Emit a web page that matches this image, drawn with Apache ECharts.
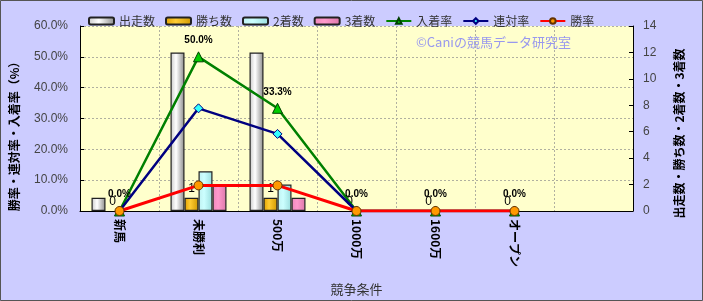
<!DOCTYPE html>
<html><head><meta charset="utf-8">
<script src="https://cdn.jsdelivr.net/npm/echarts@6/dist/echarts.min.js"></script>
<style>html,body{margin:0;padding:0;background:#CCCCFF}#c{width:703px;height:301px}</style>
</head><body><div id="c"></div>
<script>
const categories = ['新馬','未勝利','500万','1000万','1600万','オープン',''];
const runs   = [1, 12, 12, 0, 0, 0, null];
const wins   = [0, 1, 1, 0, 0, 0, null];
const second = [0, 3, 2, 0, 0, 0, null];
const third  = [0, 2, 1, 0, 0, 0, null];
const placeRate = [0, 50.0, 33.3, 0, 0, 0, null];
const quinellaRate = [0, 33.3, 25.0, 0, 0, 0, null];
const winRate = [0, 8.3, 8.3, 0, 0, 0, null];
const leftTicks = {min: 0, max: 60, interval: 10};
const rightTicks = {min: 0, max: 14, interval: 2};

const FONT = 'Liberation Sans, "Noto Sans CJK JP", sans-serif';
const JFONT = '"Noto Sans CJK JP", sans-serif';
function grad(c0, c1, c2){
  return {type:'linear', x:0, y:0, x2:1, y2:0, colorStops:[{offset:0,color:c0},{offset:0.4,color:c1},{offset:1,color:c2}]};
}
// zero-height bars get no outline
function barData(arr){
  return arr.map(v => v === 0 ? {value:0, itemStyle:{borderWidth:0, opacity:0}} : v);
}
const barBorder = {borderColor:'#222', borderWidth:1.2};
const gridLine = {color:'#b0b0a0', type:[2,2], width:1};
const chart = echarts.init(document.getElementById('c'));
chart.setOption({
  backgroundColor:'#CCCCFF',
  animation:false,
  textStyle:{fontFamily:FONT},
  grid:{left:78, right:70, top:26, bottom:88, show:true, backgroundColor:'#FFFFCC', borderWidth:0},
  graphic:[
    {type:'rect', silent:true, z:100, shape:{x:0.5,y:0.5,width:702,height:300}, style:{fill:null, stroke:'#555', lineWidth:1}},
    {type:'text', left:416, top:36, z:50, style:{text:'©Caniの競馬データ研究室', fill:'#9898ee', font:'13px '+JFONT}}
  ],
  legend:{
    left:83, top:10, itemWidth:25, itemHeight:7, itemGap:10,
    textStyle:{fontSize:12, color:'#333', fontFamily:JFONT},
    data:['出走数','勝ち数','2着数','3着数','入着率','連対率','勝率']
  },
  xAxis:{
    type:'category', data:categories, boundaryGap:true,
    name:'競争条件', nameLocation:'middle', nameGap:72,
    nameTextStyle:{fontSize:13, color:'#333', fontFamily:JFONT},
    axisLine:{lineStyle:{color:'#000', width:1}},
    axisTick:{show:false},
    axisLabel:{rotate:-90, fontSize:12, color:'#000', fontWeight:'bold', margin:8, fontFamily:JFONT},
    splitLine:{show:true, lineStyle:gridLine}
  },
  yAxis:[
    {type:'value', min:leftTicks.min, max:leftTicks.max, interval:leftTicks.interval,
     name:'勝率・連対率・入着率（%）', nameLocation:'middle', nameGap:60, nameRotate:90,
     nameTextStyle:{fontSize:12, fontWeight:'bold', color:'#000', fontFamily:JFONT, padding:[0,30,0,0]},
     axisLine:{show:true, lineStyle:{color:'#000'}},
     axisTick:{show:true, inside:true, length:4, lineStyle:{color:'#000'}},
     axisLabel:{formatter:v=>v.toFixed(1)+'%', fontSize:12, color:'#444', margin:12},
     splitLine:{show:true, lineStyle:gridLine}},
    {type:'value', min:rightTicks.min, max:rightTicks.max, interval:rightTicks.interval, position:'right',
     name:'出走数・勝ち数・2着数・3着数', nameLocation:'middle', nameGap:40, nameRotate:90,
     nameTextStyle:{fontSize:12, fontWeight:'bold', color:'#000', fontFamily:JFONT, padding:[0,30,0,0]},
     axisLine:{show:true, lineStyle:{color:'#000'}},
     axisTick:{show:true, inside:true, length:4, lineStyle:{color:'#000'}},
     axisLabel:{fontSize:12, color:'#444', margin:10},
     splitLine:{show:false}}
  ],
  series:[
    {name:'出走数', type:'bar', yAxisIndex:1, data:barData(runs), barWidth:14, barGap:'0%',
     itemStyle:Object.assign({color:grad('#c8c8c8','#ffffff','#8a8a8a')}, barBorder)},
    {name:'勝ち数', type:'bar', yAxisIndex:1, data:barData(wins), barWidth:14, barGap:'0%',
     itemStyle:Object.assign({color:grad('#e0a000','#ffcc33','#d09800')}, barBorder),
     label:{show:true, position:'top', distance:3, fontSize:12, color:'#000', opacity:1, formatter:p=>p.value==null?'':String(p.value)}},
    {name:'2着数', type:'bar', yAxisIndex:1, data:barData(second), barWidth:14, barGap:'0%',
     itemStyle:Object.assign({color:grad('#bff0f0','#ccffff','#99dddd')}, barBorder)},
    {name:'3着数', type:'bar', yAxisIndex:1, data:barData(third), barWidth:14, barGap:'0%',
     itemStyle:Object.assign({color:grad('#ee88bb','#ff99cc','#dd77aa')}, barBorder)},
    {name:'入着率', type:'line', yAxisIndex:0, data:placeRate, z:3,
     lineStyle:{color:'#008000', width:2.5}, itemStyle:{color:'#00cc00', borderColor:'#004000', borderWidth:1},
     symbol:'triangle', symbolSize:10, showAllSymbol:true,
     label:{show:true, position:'top', distance:6, fontSize:10, fontWeight:'bold', color:'#000', formatter:p=>p.value.toFixed(1)+'%'}},
    {name:'連対率', type:'line', yAxisIndex:0, data:quinellaRate, z:4,
     lineStyle:{color:'#000080', width:2.5}, itemStyle:{color:'#33ffff', borderColor:'#000080', borderWidth:1},
     symbol:'diamond', symbolSize:9, showAllSymbol:true},
    {name:'勝率', type:'line', yAxisIndex:0, data:winRate, z:5,
     lineStyle:{color:'#ff0000', width:3}, itemStyle:{color:'#ff9900', borderColor:'#663300', borderWidth:1},
     symbol:'circle', symbolSize:9, showAllSymbol:true}
  ]
});
</script></body></html>
